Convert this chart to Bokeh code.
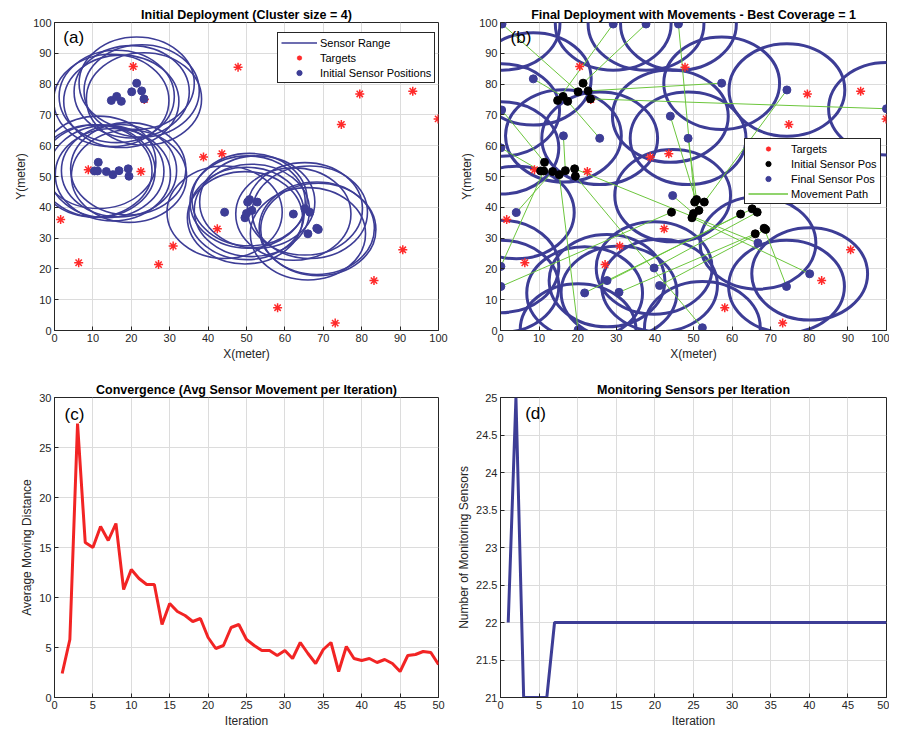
from bokeh.plotting import figure
from bokeh.models import Legend, LegendItem, Label, ColumnDataSource, FixedTicker, Range1d
from bokeh.layouts import row, column
from bokeh.embed import file_html
from bokeh.resources import INLINE

FONT = "Liberation Sans"
TXT = "#262626"
BLUE = "#3d3d96"
RED = "#ff2a2a"
GREEN = "#6cc63c"
LINE_RED = "#f22424"

# ---------------- data ----------------
target_x = [20.5, 47.8, 23.4, 79.5, 93.3, 99.9, 74.7, 38.8, 43.6, 8.8,
            22.5, 1.6, 42.4, 30.9, 6.3, 27.1, 90.7, 83.2, 58.1, 73.1]
target_y = [85.7, 85.5, 75.0, 76.8, 77.7, 68.7, 66.9, 56.3, 57.4, 52.2,
            51.6, 36.0, 33.0, 27.4, 22.0, 21.4, 26.2, 16.2, 7.4, 2.4]

# initial sensor positions (4 clusters)
init_x = [21.4, 20.1, 22.7, 14.8, 17.4, 16.2, 23.3,
          11.4, 10.4, 11.2, 13.5, 15.2, 16.8, 19.2, 19.4,
          44.3, 50.3, 52.8, 49.6, 51.4, 50.8, 50.0,
          62.2, 65.2, 66.5, 66.0, 68.7, 68.3]
init_y = [80.3, 77.5, 77.8, 74.7, 74.4, 76.0, 75.2,
          54.6, 51.8, 51.8, 51.6, 50.6, 51.9, 52.5, 50.1,
          38.4, 41.7, 41.7, 36.6, 39.0, 42.5, 38.0,
          37.8, 39.5, 38.4, 31.4, 32.8, 33.2]

# final sensor positions (same order as initial)
final_x = [37.7, 0.4, 57.3, 29.2, 25.7, 8.5, 100.0,
           0.3, 0.1, 0.1, 4.1, 20.1, 16.3, 66.7, 52.3,
           0.1, 46.1, 74.2, 80.1, 44.0, 48.6, 44.6,
           21.8, 27.6, 39.8, 30.7, 41.2, 74.1]
final_y = [99.5, 99.5, 80.3, 99.5, 62.4, 81.7, 72.0,
           71.6, 59.3, 20.8, 38.3, 0.2, 63.2, 28.4, 0.9,
           14.3, 99.5, 78.1, 18.4, 69.6, 62.4, 43.8,
           12.2, 16.2, 20.3, 12.4, 14.6, 14.3]

sensor_range = 15.0

iterations = list(range(1, 51))
avg_move = [2.4, 5.8, 27.4, 15.5, 15.0, 17.1, 15.7, 17.4, 10.8, 12.8,
            11.9, 11.3, 11.3, 7.3, 9.4, 8.6, 8.2, 7.6, 7.9, 6.0,
            4.9, 5.2, 7.0, 7.3, 5.8, 5.2, 4.7, 4.7, 4.2, 4.7,
            3.9, 5.5, 4.4, 3.4, 4.8, 5.5, 2.6, 5.1, 3.9, 3.7,
            3.9, 3.5, 3.8, 3.4, 2.6, 4.2, 4.3, 4.6, 4.5, 3.3]
monitoring = [22, 25, 21, 21, 21, 21, 22, 22, 22, 22,
              22, 22, 22, 22, 22, 22, 22, 22, 22, 22,
              22, 22, 22, 22, 22, 22, 22, 22, 22, 22,
              22, 22, 22, 22, 22, 22, 22, 22, 22, 22,
              22, 22, 22, 22, 22, 22, 22, 22, 22, 22]

ticks_100 = [0, 10, 20, 30, 40, 50, 60, 70, 80, 90, 100]
ticks_50 = [0, 5, 10, 15, 20, 25, 30, 35, 40, 45, 50]
ticks_30 = [0, 5, 10, 15, 20, 25, 30]
ticks_d = [21, 21.5, 22, 22.5, 23, 23.5, 24, 24.5, 25]


def make_fig(title, w, h, xr, yr, xticks, yticks, xlabel, ylabel, mleft, mtop, mbottom, mright):
    p = figure(width=w, height=h, x_range=Range1d(*xr), y_range=Range1d(*yr),
               output_backend="svg", toolbar_location=None, title=title,
               min_border_left=mleft, min_border_right=mright,
               min_border_top=mtop, min_border_bottom=mbottom)
    p.title.text_font = FONT
    p.title.text_font_size = "12.5px"
    p.title.text_font_style = "bold"
    p.title.align = "center"
    p.title.text_color = "#000000"
    p.title.standoff = 1
    p.outline_line_color = TXT
    p.outline_line_alpha = 1
    p.outline_line_width = 1
    p.background_fill_color = "white"
    p.border_fill_color = "white"
    p.xaxis.ticker = FixedTicker(ticks=xticks)
    p.yaxis.ticker = FixedTicker(ticks=yticks)
    p.xaxis.major_label_overrides = {t: f"{t:g}" for t in xticks}
    p.yaxis.major_label_overrides = {t: f"{t:g}" for t in yticks}
    p.xaxis.axis_label = xlabel
    p.yaxis.axis_label = ylabel
    for ax in p.axis:
        ax.axis_line_color = TXT
        ax.major_tick_line_color = TXT
        ax.major_tick_in = 4
        ax.major_tick_out = 0
        ax.minor_tick_line_color = None
        ax.major_label_text_font = FONT
        ax.major_label_text_font_size = "11px"
        ax.major_label_text_color = TXT
        ax.major_label_standoff = 3
        ax.axis_label_text_font = FONT
        ax.axis_label_text_font_size = "12px"
        ax.axis_label_text_font_style = "normal"
        ax.axis_label_text_color = TXT
        ax.axis_label_standoff = 2
    p.grid.grid_line_color = "#dcdcdc"
    p.grid.grid_line_width = 1
    return p


def style_legend(lg, glyph_w):
    lg.border_line_color = TXT
    lg.border_line_width = 1
    lg.border_line_alpha = 1
    lg.background_fill_color = "white"
    lg.background_fill_alpha = 1
    lg.label_text_font = FONT
    lg.label_text_font_size = "11px"
    lg.label_text_color = "#000000"
    lg.glyph_width = glyph_w
    lg.glyph_height = 13
    lg.label_height = 13
    lg.spacing = 2
    lg.padding = 3
    lg.margin = 0
    lg.label_standoff = 3


# ---------------- (a) ----------------
pa = make_fig("Initial Deployment (Cluster size = 4)", 454, 370, (0, 100), (0, 100),
              ticks_100, ticks_100, "X(meter)", "Y(meter)", 54, 22, 40, 16)
src_init = ColumnDataSource(dict(x=init_x, y=init_y))
src_final = ColumnDataSource(dict(x=final_x, y=final_y))
src_t = ColumnDataSource(dict(x=target_x, y=target_y))
src_seg = ColumnDataSource(dict(x0=init_x, y0=init_y, x1=final_x, y1=final_y))

pa.ellipse(x="x", y="y", width=2 * sensor_range, height=2 * sensor_range, source=src_init,
           fill_color=None, line_color=BLUE, line_width=1.6)
dummy_a = pa.line(x=[-50, -40], y=[-50, -40], line_color=BLUE, line_width=1.5)
tr_a = pa.scatter(x="x", y="y", source=src_t, marker="asterisk", size=9,
                  line_color=RED, line_width=1.5)
ini_a = pa.scatter(x="x", y="y", source=src_init, marker="circle", size=8,
                   fill_color=BLUE, line_color=BLUE)
lg_a = Legend(items=[LegendItem(label="Sensor Range", renderers=[dummy_a]),
                     LegendItem(label="Targets", renderers=[tr_a]),
                     LegendItem(label="Initial Sensor Positions", renderers=[ini_a])],
              location=(223, 247))
style_legend(lg_a, 36)
pa.add_layout(lg_a)
pa.add_layout(Label(x=2.3, y=95, text="(a)", text_font=FONT, text_font_size="17px",
                    text_baseline="middle", text_color="#000000"))

# ---------------- (b) ----------------
pb = make_fig("Final Deployment with Movements - Best Coverage = 1", 435, 370, (0, 100), (0, 100),
              ticks_100, ticks_100, "X(meter)", "Y(meter)", 46, 22, 40, 3)
pb.ellipse(x="x", y="y", width=2 * sensor_range, height=2 * sensor_range, source=src_final,
           fill_color=None, line_color=BLUE, line_width=3)
seg_b = pb.segment(x0="x0", y0="y0", x1="x1", y1="y1", source=src_seg,
                   line_color=GREEN, line_width=1)
tr_b = pb.scatter(x="x", y="y", source=src_t, marker="asterisk", size=9,
                  line_color=RED, line_width=1.5)
ini_b = pb.scatter(x="x", y="y", source=src_init, marker="circle", size=8,
                   fill_color="#000000", line_color="#000000")
fin_b = pb.scatter(x="x", y="y", source=src_final, marker="circle", size=8,
                   fill_color=BLUE, line_color=BLUE)
dummy_b = pb.line(x=[-50, -40], y=[-50, -40], line_color=GREEN, line_width=1.5)
lg_b = Legend(items=[LegendItem(label="Targets", renderers=[tr_b]),
                     LegendItem(label="Initial Sensor Pos", renderers=[ini_b]),
                     LegendItem(label="Final Sensor Pos", renderers=[fin_b]),
                     LegendItem(label="Movement Path", renderers=[dummy_b])],
              location=(244, 126))
style_legend(lg_b, 40)
pb.add_layout(lg_b)
pb.add_layout(Label(x=2.6, y=95, text="(b)", text_font=FONT, text_font_size="17px",
                    text_baseline="middle", text_color="#000000"))

# ---------------- (c) ----------------
pc = make_fig("Convergence (Avg Sensor Movement per Iteration)", 454, 360, (0, 50), (0, 30),
              ticks_50, ticks_30, "Iteration", "Average Moving Distance", 54, 27, 30, 16)
pc.line(x=iterations, y=avg_move, line_color=LINE_RED, line_width=3)
pc.add_layout(Label(x=1.3, y=28.3, text="(c)", text_font=FONT, text_font_size="17px",
                    text_baseline="middle", text_color="#000000"))

# ---------------- (d) ----------------
pd_ = make_fig("Monitoring Sensors per Iteration", 435, 360, (0, 50), (21, 25),
               ticks_50, ticks_d, "Iteration", "Number of Monitoring Sensors", 46, 27, 30, 3)
pd_.line(x=iterations, y=monitoring, line_color=BLUE, line_width=3)
pd_.add_layout(Label(x=3.2, y=24.79, text="(d)", text_font=FONT, text_font_size="17px",
                     text_baseline="middle", text_color="#000000"))

layout = column(row(pa, pb), row(pc, pd_))
open("out.html", "w").write(file_html(layout, INLINE))
